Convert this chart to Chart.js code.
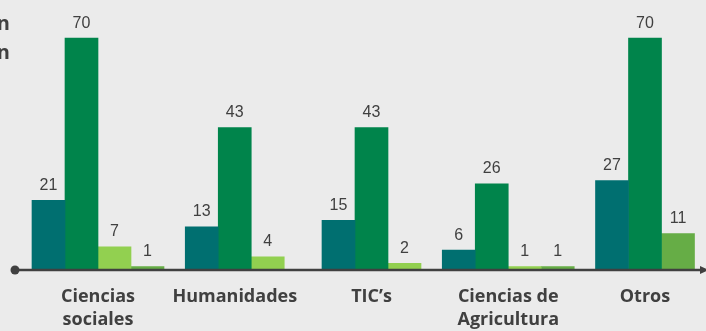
<!DOCTYPE html>
<html>
<head>
<meta charset="utf-8">
<script src="https://cdn.jsdelivr.net/npm/chart.js@4"></script>
<style>
  html, body { margin: 0; padding: 0; background: #ebebeb; }
  #wrap { width: 706px; height: 331px; }
</style>
</head>
<body>
<div id="wrap"><canvas id="myChart" width="706" height="331"></canvas></div>
<script>
const categories = [['Ciencias', 'sociales'], 'Humanidades', 'TIC\u2019s', ['Ciencias de', 'Agricultura'], 'Otros'];
const seriesTeal = [21, 13, 15, 6, 27];
const seriesGreen = [70, 43, 43, 26, 70];
const seriesLight = [7, 4, 2, 1, null];
const seriesMid = [1, null, null, 1, 11];

const textColor = '#404040';

// numbers over the bars, the baseline with its dot/arrow and the cut legend tails
const decorations = {
  id: 'decorations',
  afterDatasetsDraw(chart) {
    const ctx = chart.ctx;
    ctx.save();
    ctx.font = '16px "Liberation Sans", Arial, sans-serif';
    ctx.fillStyle = textColor;
    ctx.textAlign = 'center';
    ctx.textBaseline = 'middle';
    chart.data.datasets.forEach((ds, i) => {
      chart.getDatasetMeta(i).data.forEach((bar, j) => {
        const v = ds.data[j];
        if (v == null) return;
        ctx.fillText(String(v), bar.x, bar.y - 15);
      });
    });

    const y0 = chart.scales.y.getPixelForValue(0);
    ctx.strokeStyle = textColor;
    ctx.lineWidth = 2.5;
    ctx.beginPath();
    ctx.moveTo(15, y0);
    ctx.lineTo(702, y0);
    ctx.stroke();
    ctx.beginPath();
    ctx.arc(15, y0, 4.5, 0, Math.PI * 2);
    ctx.fill();
    ctx.beginPath();
    ctx.moveTo(700, y0 - 4);
    ctx.lineTo(709, y0);
    ctx.lineTo(700, y0 + 4);
    ctx.closePath();
    ctx.fill();

    ctx.font = 'bold 20px "Open Sans", sans-serif';
    ctx.textAlign = 'right';
    ctx.fillText('n', 10, 24);
    ctx.fillText('n', 10, 53);
    ctx.restore();
  }
};

const data = {
  labels: categories,
  datasets: [
    { label: 'A', data: seriesTeal, backgroundColor: '#006f70' },
    { label: 'B', data: seriesGreen, backgroundColor: '#00844b' },
    { label: 'C', data: seriesLight, backgroundColor: '#92d050' },
    { label: 'D', data: seriesMid, backgroundColor: '#66ad46' }
  ]
};

const config = {
  type: 'bar',
  data: data,
  options: {
    responsive: false,
    animation: false,
    layout: { padding: { left: 98, right: 61, top: 0, bottom: 0 } },
    datasets: {
      bar: { barThickness: 33, skipNull: true, clip: false }
    },
    plugins: {
      legend: { display: false },
      tooltip: { enabled: false }
    },
    scales: {
      x: {
        offset: false,
        grid: { display: false, drawTicks: false },
        border: { display: false },
        ticks: {
          autoSkip: false,
          maxRotation: 0,
          padding: 15,
          color: textColor,
          font: { family: '"Open Sans", sans-serif', size: 18, weight: 'bold', lineHeight: 1.3 }
        },
        afterFit(scale) { scale.height = 61; }
      },
      y: { display: false, min: 0, max: 81.5 }
    }
  },
  plugins: [decorations]
};

var myChart = new Chart(document.getElementById('myChart'), config);
</script>
</body>
</html>
